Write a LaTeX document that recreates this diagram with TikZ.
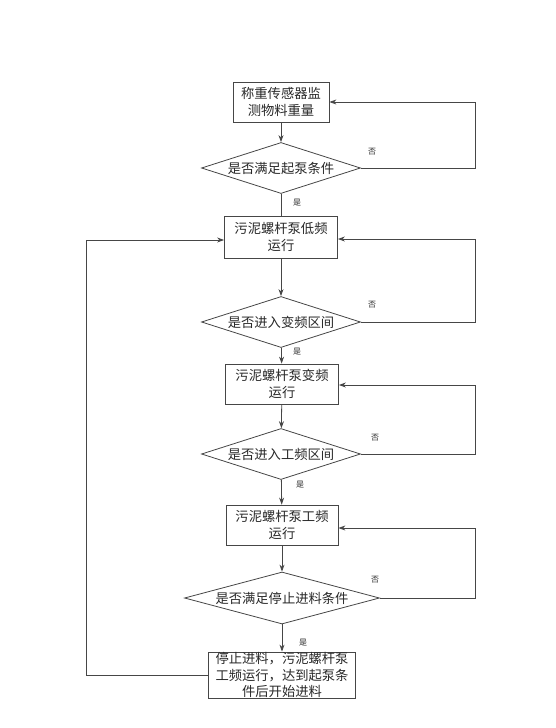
\documentclass[tikz,border=0pt]{standalone}
\usepackage{fontspec}
\usepackage{tikz}
\usetikzlibrary{arrows.meta,positioning,shapes.geometric}
\newfontfamily\cjk{Noto Sans CJK SC}
\definecolor{linegray}{RGB}{70,70,70}
\definecolor{textgray}{RGB}{40,40,40}

\begin{document}
\begin{tikzpicture}[
    x=1pt,y=-1pt,
    box/.style={draw=linegray,line width=0.8pt,minimum width=113pt,minimum height=40pt,inner sep=0pt,align=center,text=textgray,font=\cjk\fontsize{13.3}{16.5}\selectfont},
    cond/.style={draw=linegray,line width=0.8pt,diamond,aspect=3.2,inner sep=0pt,minimum width=159pt,minimum height=51pt,text=textgray,font=\cjk\fontsize{13.3}{15}\selectfont},
    yn/.style={text=textgray,font=\cjk\fontsize{8}{9}\selectfont,inner sep=0pt},
    link/.style={draw=linegray,line width=0.8pt},
    >={Stealth[length=7pt,width=5pt]}
]
\useasboundingbox (0,0) rectangle (555,728);
\node[box,minimum width=96pt] (weigh) at (281,102) {称重传感器监\\测物料重量};
\node[cond] (pumpok) at (281,168) {是否满足起泵条件};
\node[box,minimum height=42pt] (lowrun) at (281,237) {污泥螺杆泵低频\\运行};
\node[cond] (varok) at (281,322) {是否进入变频区间};
\node[box] (varrun) at (282,384) {污泥螺杆泵变频\\运行};
\node[cond] (fullok) at (281,454) {是否进入工频区间};
\node[box,minimum width=112pt] (fullrun) at (282,525) {污泥螺杆泵工频\\运行};
\node[cond,aspect=3.8,minimum width=195pt,minimum height=52pt] (stopok) at (282,598) {是否满足停止进料条件};
\node[box,minimum width=147pt,minimum height=46pt] (stoprun) at (282,675) {停止进料，污泥螺杆泵\\工频运行，达到起泵条\\件后开始进料};
\coordinate (rrail) at (475,0);
\coordinate (lrail) at (86,0);
% main line down
\draw[link,->] (weigh) -- (pumpok);
\draw[link] (pumpok) -- (lowrun);
\draw[link,->] (lowrun) -- (varok);
\draw[link,->] (varok) -- (varrun);
\draw[link,->] (varrun) -- (fullok);
\draw[link,->] (fullok) -- (fullrun);
\draw[link,->] (fullrun) -- (stopok);
\draw[link,->] (stopok) -- (stoprun);
% no-branches back up on the right
\draw[link,->] (pumpok.east) -- (pumpok.east -| rrail) |- (weigh.east);
\draw[link,->] (varok.east) -- (varok.east -| rrail) |- ([yshift=-2pt]lowrun.east);
\draw[link,->] (fullok.east) -- (fullok.east -| rrail) |- ([yshift=-1pt]varrun.east);
\draw[link,->] (stopok.east) -- (stopok.east -| rrail) |- ([yshift=-3pt]fullrun.east);
% restart loop on the left
\draw[link,->] (stoprun.west) -- (stoprun.west -| lrail) |- ([yshift=-3pt]lowrun.west);
% labels
\node[yn] (no1) at (372,152) {否};
\node[yn] (yes1) at (297,203) {是};
\node[yn] (no2) at (372,305) {否};
\node[yn] (yes2) at (297,352) {是};
\node[yn] (no3) at (375,438) {否};
\node[yn] (yes3) at (300,485) {是};
\node[yn] (no4) at (375,580) {否};
\node[yn] (yes4) at (303,643) {是};
\end{tikzpicture}
\end{document}
